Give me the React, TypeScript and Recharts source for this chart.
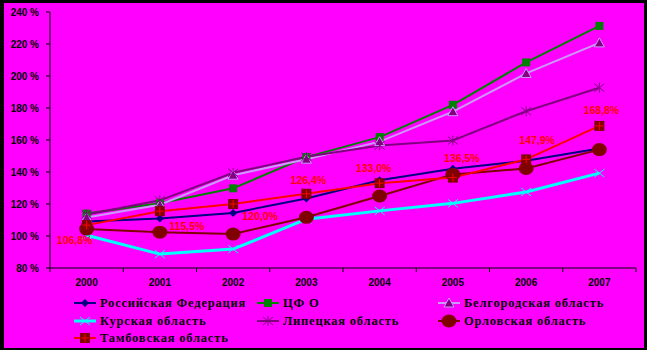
import React from 'react';
import { LineChart, Line, XAxis, YAxis, LabelList } from 'recharts';

const years = ['2000', '2001', '2002', '2003', '2004', '2005', '2006', '2007'];
const yTicks = [80, 100, 120, 140, 160, 180, 200, 220, 240];

const rf = [109, 111, 114.4, 123.5, 134.8, 142, 147, 154.7];
const cfo = [114, 120.5, 129.8, 149.3, 161.8, 182, 208.5, 231.3];
const belgorod = [111.5, 119.5, 138, 148, 159, 177.7, 201.6, 220.7];
const kursk = [100.5, 88.7, 91.8, 110.5, 115.7, 120.4, 127.5, 139.3];
const lipetsk = [113.5, 122.3, 139.5, 149.5, 156.6, 159.7, 178, 192.7];
const orel = [104.3, 102.4, 101.2, 111.7, 125, 138.5, 142.2, 154];
const tambov = [106.8, 115.5, 120.0, 126.4, 133.0, 136.5, 147.9, 168.8];

const seriesNames = [
  'Российская Федерация',
  'ЦФ О',
  'Белгородская область',
  'Курская область',
  'Липецкая область',
  'Орловская область',
  'Тамбовская область',
];

const data = years.map((year, i) => ({
  year,
  rf: rf[i],
  cfo: cfo[i],
  belgorod: belgorod[i],
  kursk: kursk[i],
  lipetsk: lipetsk[i],
  orel: orel[i],
  tambov: tambov[i],
}));

const W = 647;
const H = 350;
const MARGIN = { top: 12, right: 11, left: 0, bottom: 0 };
const Y_AXIS_W = 50;
const X_AXIS_H = 82;
const BAND = (W - MARGIN.left - MARGIN.right - Y_AXIS_W) / years.length;

const AXIS_FONT = '"Liberation Sans", Arial, sans-serif';
const LEGEND_FONT = '"Liberation Serif", "Times New Roman", serif';

// marker shapes
const Marker = ({ kind, cx, cy }: { kind: string; cx: number; cy: number }) => {
  switch (kind) {
    case 'rf':
      return <polygon points={`${cx},${cy - 4} ${cx + 4},${cy} ${cx},${cy + 4} ${cx - 4},${cy}`} fill="#000080" />;
    case 'cfo':
      return <rect x={cx - 4} y={cy - 4} width={8} height={8} fill="#008000" />;
    case 'belgorod':
      return (
        <polygon
          points={`${cx},${cy - 5} ${cx + 5},${cy + 4} ${cx - 5},${cy + 4}`}
          fill="#800080"
          stroke="#CC99FF"
          strokeWidth={1}
        />
      );
    case 'kursk':
      return (
        <g stroke="#00FFFF" strokeWidth={1}>
          <line x1={cx - 5} y1={cy - 4} x2={cx + 5} y2={cy + 4} />
          <line x1={cx - 5} y1={cy + 4} x2={cx + 5} y2={cy - 4} />
        </g>
      );
    case 'lipetsk':
      return (
        <g stroke="#800080" strokeWidth={1}>
          <line x1={cx - 5} y1={cy - 4} x2={cx + 5} y2={cy + 4} />
          <line x1={cx - 5} y1={cy + 4} x2={cx + 5} y2={cy - 4} />
          <line x1={cx} y1={cy - 5} x2={cx} y2={cy + 5} />
        </g>
      );
    case 'orel':
      return <ellipse cx={cx} cy={cy} rx={7.5} ry={6.5} fill="#800000" />;
    case 'tambov':
      return (
        <g>
          <rect x={cx - 5} y={cy - 5} width={10} height={10} fill="#800000" />
          <line x1={cx - 4} y1={cy} x2={cx + 4} y2={cy} stroke="#FF0000" strokeWidth={1} />
          <line x1={cx} y1={cy - 4} x2={cx} y2={cy + 4} stroke="#FF0000" strokeWidth={1} />
        </g>
      );
    default:
      return null;
  }
};

const series = [
  { key: 'rf', color: '#000080', width: 2 },
  { key: 'cfo', color: '#008000', width: 2 },
  { key: 'belgorod', color: '#CC99FF', width: 2 },
  { key: 'kursk', color: '#00FFFF', width: 3 },
  { key: 'lipetsk', color: '#800080', width: 2 },
  { key: 'orel', color: '#800000', width: 2 },
  { key: 'tambov', color: '#FF0000', width: 2 },
];

const makeDot = (kind: string) => (props: any) => {
  const { cx, cy, index } = props;
  if (cx == null || cy == null) return <g key={`${kind}-${index}`} />;
  return <Marker key={`${kind}-${index}`} kind={kind} cx={cx} cy={cy} />;
};

const XTick = (props: any) => {
  const { x, y, payload, index } = props;
  return (
    <g>
      <line x1={x - BAND / 2} y1={y} x2={x - BAND / 2} y2={y + 4} stroke="#000" />
      {index === years.length - 1 && (
        <line x1={x + BAND / 2} y1={y} x2={x + BAND / 2} y2={y + 4} stroke="#000" />
      )}
      <text x={x} y={y + 18} textAnchor="middle" fontSize={10} fontWeight="bold" fontFamily={AXIS_FONT} fill="#000">
        {payload.value}
      </text>
    </g>
  );
};

// label placement around the Tambov points
const labelShift: [number, number][] = [
  [-12, 15], [27, 15], [27, 12], [2, -14], [-6, -15], [9, -20], [11, -19], [2, -16],
];

const TambovLabel = (props: any) => {
  const { x, y, value, index } = props;
  const [dx, dy] = labelShift[index] || [0, -14];
  return (
    <text
      x={x + dx}
      y={y + dy + 4}
      textAnchor="middle"
      fontSize={10.5}
      fontWeight="bold"
      fontFamily={AXIS_FONT}
      fill="#FF0000"
    >
      {`${value.toFixed(1).replace('.', ',')}%`}
    </text>
  );
};

const legendCols = [74, 257, 438];
const legendRows = [303, 321, 338];

const Legend = () => (
  <>
    {series.map((s, i) => {
      const col = i % 3;
      const row = Math.floor(i / 3);
      const left = legendCols[col];
      const top = legendRows[row];
      return (
        <div key={s.key} style={{ position: 'absolute', left, top: top - 9, height: 18, display: 'flex', alignItems: 'center' }}>
          <svg width={24} height={18} style={{ display: 'block' }}>
            <line x1={0} y1={9} x2={22} y2={9} stroke={s.color} strokeWidth={s.width} />
            <Marker kind={s.key} cx={11} cy={9} />
          </svg>
          <span
            style={{
              marginLeft: 2,
              fontFamily: LEGEND_FONT,
              fontWeight: 'bold',
              fontSize: 12.5,
              letterSpacing: 0.8,
              color: '#000',
              whiteSpace: 'nowrap',
            }}
          >
            {seriesNames[i]}
          </span>
        </div>
      );
    })}
  </>
);

export default function App() {
  return (
    <div style={{ position: 'absolute', left: 0, top: 0, width: W, height: H, background: '#000' }}>
      <div style={{ position: 'absolute', left: 4, top: 3, width: 640, height: 345, background: '#FF00FF' }} />
      <div style={{ position: 'absolute', left: 0, top: 0 }}>
        <LineChart width={W} height={H} data={data} margin={MARGIN}>
          <XAxis
            dataKey="year"
            height={X_AXIS_H}
            padding={{ left: BAND / 2, right: BAND / 2 }}
            axisLine={{ stroke: '#000', strokeWidth: 1 }}
            tickLine={false}
            tickSize={0}
            tickMargin={0}
            tick={<XTick />}
            interval={0}
          />
          <YAxis
            width={Y_AXIS_W}
            domain={[80, 240]}
            ticks={yTicks}
            tickFormatter={(v: number) => `${v} %`}
            axisLine={{ stroke: '#000', strokeWidth: 1 }}
            tickLine={{ stroke: '#000' }}
            tickSize={4}
            tickMargin={7}
            tick={{ fontSize: 10, fontWeight: 'bold', fontFamily: AXIS_FONT, fill: '#000' }}
            interval={0}
          />
          {series.map((s) => (
            <Line
              key={s.key}
              type="linear"
              dataKey={s.key}
              stroke={s.color}
              strokeWidth={s.width}
              dot={makeDot(s.key)}
              activeDot={false}
              isAnimationActive={false}
            >
              {s.key === 'tambov' && <LabelList dataKey="tambov" content={<TambovLabel />} />}
            </Line>
          ))}
        </LineChart>
      </div>
      <Legend />
    </div>
  );
}
